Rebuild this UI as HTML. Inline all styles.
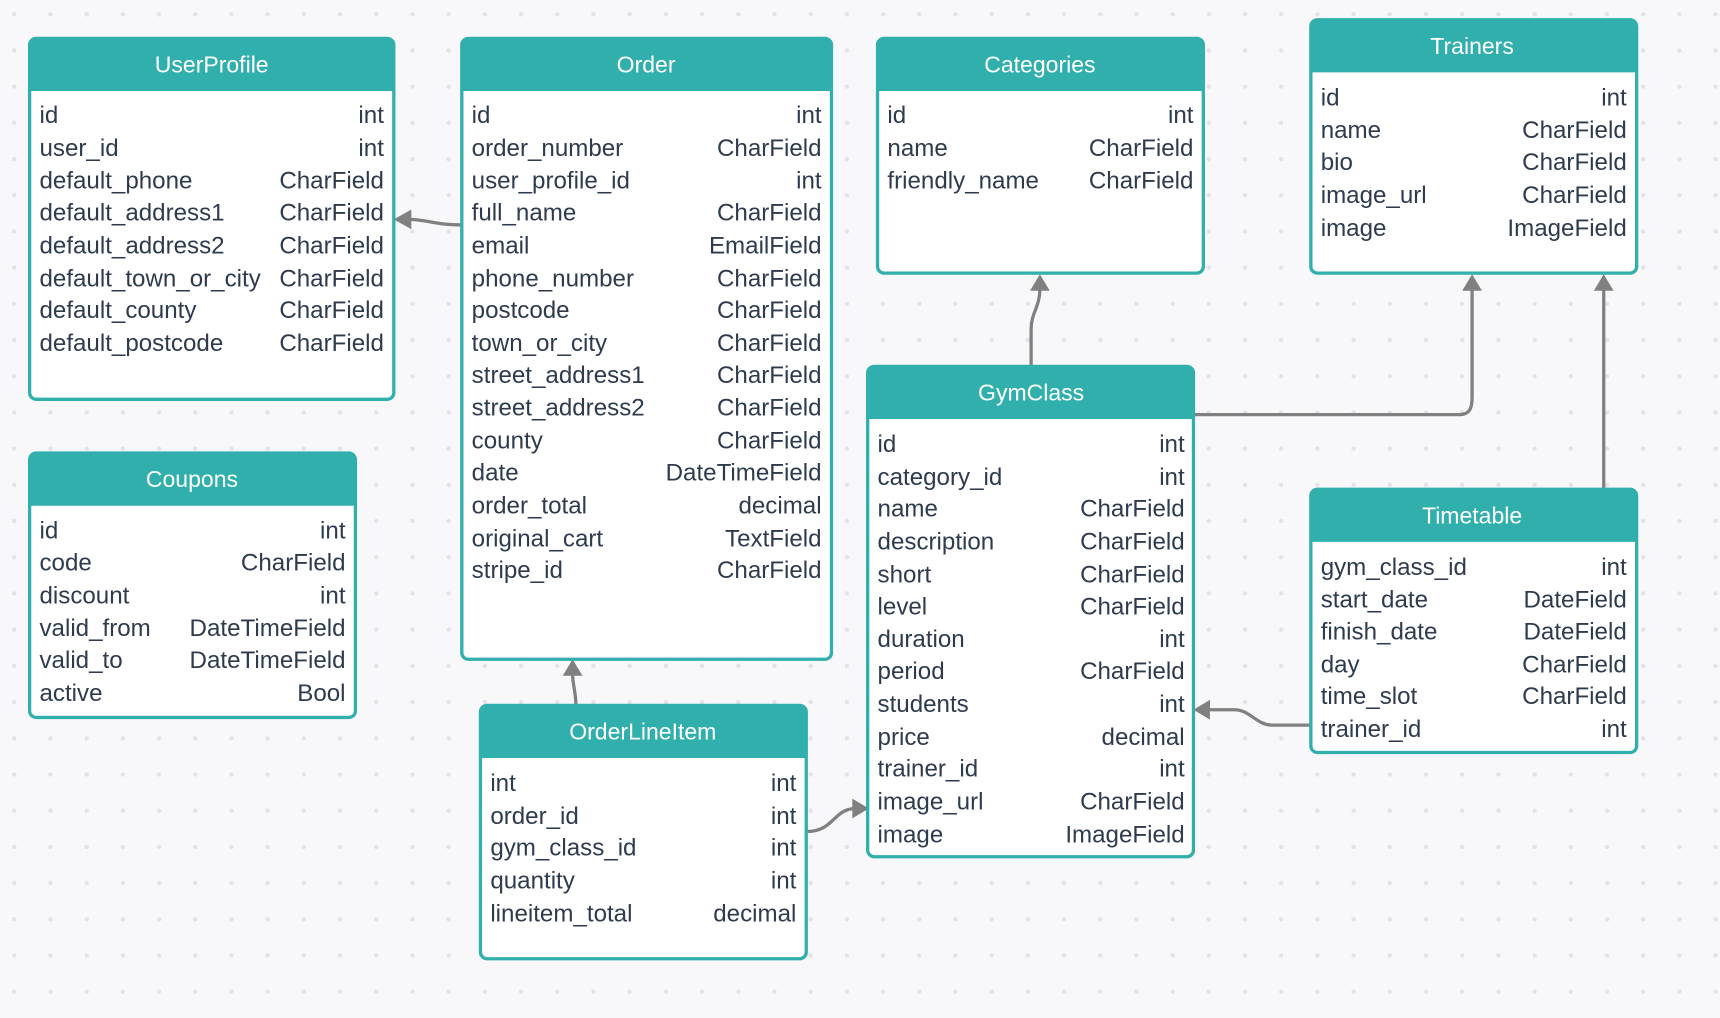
<!DOCTYPE html>
<html><head><meta charset="utf-8"><style>
html,body{margin:0;padding:0;background:#f8f8fa;}
svg{display:block;}
text{font-family:"Liberation Sans",sans-serif;}
.r{font-size:22px;fill:#2e3b4e;}
.t{text-anchor:end;}
.h{font-size:21px;fill:#fff;text-anchor:middle;}
.b{fill:#fff;stroke:#31afad;stroke-width:3;}
.hd{fill:#31afad;}
.c{fill:none;stroke:#808080;stroke-width:3;}
.a{fill:#808080;}
</style></head><body>
<svg width="1720" height="1018" viewBox="0 0 1568 928" preserveAspectRatio="none" xmlns="http://www.w3.org/2000/svg">
<defs><pattern id="d" width="33" height="33" patternUnits="userSpaceOnUse" x="10" y="10"><circle cx="3" cy="3" r="2" fill="#e2e2e8"/></pattern></defs>
<rect width="1568" height="928" fill="#f8f8fa"/>
<rect width="1568" height="928" fill="url(#d)"/>

<path class="c" d="M421,205 C395,205 390,200 372,200"/><polygon class="a" points="359,200 375,191 375,209"/>
<path class="c" d="M525,643 C525,630 522,625 522,614"/><polygon class="a" points="522,601 513,616 531,616"/>
<path class="c" d="M736,758 C760,758 760,737 780,737"/><polygon class="a" points="792,737 777,728 777,746"/>
<path class="c" d="M940,334 L940,300 C940,285 948,280 948,263"/><polygon class="a" points="948,250 939,265 957,265"/>
<path class="c" d="M1088,378 L1330,378 C1340,378 1342,372 1342,362 L1342,263"/><polygon class="a" points="1342,250 1333,265 1351,265"/>
<path class="c" d="M1462,446 L1462,263"/><polygon class="a" points="1462,250 1453,265 1471,265"/>
<path class="c" d="M1195,661 L1160,661 C1145,661 1140,647 1125,647 L1100,647"/><polygon class="a" points="1088,647 1103,638 1103,656"/>

<rect class="b" x="27" y="35" width="332" height="329" rx="6"/>
<path class="hd" d="M27,41 a6,6 0 0 1 6,-6 h320 a6,6 0 0 1 6,6 v42 h-332z"/>
<text class="h" x="193" y="66">UserProfile</text>
<g class="r">
<text x="36" y="112">id</text><text class="t" x="350" y="112">int</text>
<text x="36" y="142">user_id</text><text class="t" x="350" y="142">int</text>
<text x="36" y="172">default_phone</text><text class="t" x="350" y="172">CharField</text>
<text x="36" y="201">default_address1</text><text class="t" x="350" y="201">CharField</text>
<text x="36" y="231">default_address2</text><text class="t" x="350" y="231">CharField</text>
<text x="36" y="261">default_town_or_city</text><text class="t" x="350" y="261">CharField</text>
<text x="36" y="290">default_county</text><text class="t" x="350" y="290">CharField</text>
<text x="36" y="320">default_postcode</text><text class="t" x="350" y="320">CharField</text>
</g>

<rect class="b" x="27" y="413" width="297" height="241" rx="6"/>
<path class="hd" d="M27,419 a6,6 0 0 1 6,-6 h285 a6,6 0 0 1 6,6 v42 h-297z"/>
<text class="h" x="175" y="444">Coupons</text>
<g class="r">
<text x="36" y="491">id</text><text class="t" x="315" y="491">int</text>
<text x="36" y="520">code</text><text class="t" x="315" y="520">CharField</text>
<text x="36" y="550">discount</text><text class="t" x="315" y="550">int</text>
<text x="36" y="580">valid_from</text><text class="t" x="315" y="580">DateTimeField</text>
<text x="36" y="609">valid_to</text><text class="t" x="315" y="609">DateTimeField</text>
<text x="36" y="639">active</text><text class="t" x="315" y="639">Bool</text>
</g>

<rect class="b" x="421" y="35" width="337" height="566" rx="6"/>
<path class="hd" d="M421,41 a6,6 0 0 1 6,-6 h325 a6,6 0 0 1 6,6 v42 h-337z"/>
<text class="h" x="589" y="66">Order</text>
<g class="r">
<text x="430" y="112">id</text><text class="t" x="749" y="112">int</text>
<text x="430" y="142">order_number</text><text class="t" x="749" y="142">CharField</text>
<text x="430" y="172">user_profile_id</text><text class="t" x="749" y="172">int</text>
<text x="430" y="201">full_name</text><text class="t" x="749" y="201">CharField</text>
<text x="430" y="231">email</text><text class="t" x="749" y="231">EmailField</text>
<text x="430" y="261">phone_number</text><text class="t" x="749" y="261">CharField</text>
<text x="430" y="290">postcode</text><text class="t" x="749" y="290">CharField</text>
<text x="430" y="320">town_or_city</text><text class="t" x="749" y="320">CharField</text>
<text x="430" y="349">street_address1</text><text class="t" x="749" y="349">CharField</text>
<text x="430" y="379">street_address2</text><text class="t" x="749" y="379">CharField</text>
<text x="430" y="409">county</text><text class="t" x="749" y="409">CharField</text>
<text x="430" y="438">date</text><text class="t" x="749" y="438">DateTimeField</text>
<text x="430" y="468">order_total</text><text class="t" x="749" y="468">decimal</text>
<text x="430" y="498">original_cart</text><text class="t" x="749" y="498">TextField</text>
<text x="430" y="527">stripe_id</text><text class="t" x="749" y="527">CharField</text>
</g>

<rect class="b" x="800" y="35" width="297" height="214" rx="6"/>
<path class="hd" d="M800,41 a6,6 0 0 1 6,-6 h285 a6,6 0 0 1 6,6 v42 h-297z"/>
<text class="h" x="948" y="66">Categories</text>
<g class="r">
<text x="809" y="112">id</text><text class="t" x="1088" y="112">int</text>
<text x="809" y="142">name</text><text class="t" x="1088" y="142">CharField</text>
<text x="809" y="172">friendly_name</text><text class="t" x="1088" y="172">CharField</text>
</g>

<rect class="b" x="1195" y="18" width="297" height="231" rx="6"/>
<path class="hd" d="M1195,24 a6,6 0 0 1 6,-6 h285 a6,6 0 0 1 6,6 v42 h-297z"/>
<text class="h" x="1342" y="49">Trainers</text>
<g class="r">
<text x="1204" y="96">id</text><text class="t" x="1483" y="96">int</text>
<text x="1204" y="126">name</text><text class="t" x="1483" y="126">CharField</text>
<text x="1204" y="155">bio</text><text class="t" x="1483" y="155">CharField</text>
<text x="1204" y="185">image_url</text><text class="t" x="1483" y="185">CharField</text>
<text x="1204" y="215">image</text><text class="t" x="1483" y="215">ImageField</text>
</g>

<rect class="b" x="791" y="334" width="297" height="447" rx="6"/>
<path class="hd" d="M791,340 a6,6 0 0 1 6,-6 h285 a6,6 0 0 1 6,6 v42 h-297z"/>
<text class="h" x="940" y="365">GymClass</text>
<g class="r">
<text x="800" y="412">id</text><text class="t" x="1080" y="412">int</text>
<text x="800" y="442">category_id</text><text class="t" x="1080" y="442">int</text>
<text x="800" y="471">name</text><text class="t" x="1080" y="471">CharField</text>
<text x="800" y="501">description</text><text class="t" x="1080" y="501">CharField</text>
<text x="800" y="531">short</text><text class="t" x="1080" y="531">CharField</text>
<text x="800" y="560">level</text><text class="t" x="1080" y="560">CharField</text>
<text x="800" y="590">duration</text><text class="t" x="1080" y="590">int</text>
<text x="800" y="619">period</text><text class="t" x="1080" y="619">CharField</text>
<text x="800" y="649">students</text><text class="t" x="1080" y="649">int</text>
<text x="800" y="679">price</text><text class="t" x="1080" y="679">decimal</text>
<text x="800" y="708">trainer_id</text><text class="t" x="1080" y="708">int</text>
<text x="800" y="738">image_url</text><text class="t" x="1080" y="738">CharField</text>
<text x="800" y="768">image</text><text class="t" x="1080" y="768">ImageField</text>
</g>

<rect class="b" x="1195" y="446" width="297" height="240" rx="6"/>
<path class="hd" d="M1195,452 a6,6 0 0 1 6,-6 h285 a6,6 0 0 1 6,6 v42 h-297z"/>
<text class="h" x="1342" y="477">Timetable</text>
<g class="r">
<text x="1204" y="524">gym_class_id</text><text class="t" x="1483" y="524">int</text>
<text x="1204" y="554">start_date</text><text class="t" x="1483" y="554">DateField</text>
<text x="1204" y="583">finish_date</text><text class="t" x="1483" y="583">DateField</text>
<text x="1204" y="613">day</text><text class="t" x="1483" y="613">CharField</text>
<text x="1204" y="642">time_slot</text><text class="t" x="1483" y="642">CharField</text>
<text x="1204" y="672">trainer_id</text><text class="t" x="1483" y="672">int</text>
</g>

<rect class="b" x="438" y="643" width="297" height="231" rx="6"/>
<path class="hd" d="M438,649 a6,6 0 0 1 6,-6 h285 a6,6 0 0 1 6,6 v42 h-297z"/>
<text class="h" x="586" y="674">OrderLineItem</text>
<g class="r">
<text x="447" y="721">int</text><text class="t" x="726" y="721">int</text>
<text x="447" y="751">order_id</text><text class="t" x="726" y="751">int</text>
<text x="447" y="780">gym_class_id</text><text class="t" x="726" y="780">int</text>
<text x="447" y="810">quantity</text><text class="t" x="726" y="810">int</text>
<text x="447" y="840">lineitem_total</text><text class="t" x="726" y="840">decimal</text>
</g>
</svg>
</body></html>
